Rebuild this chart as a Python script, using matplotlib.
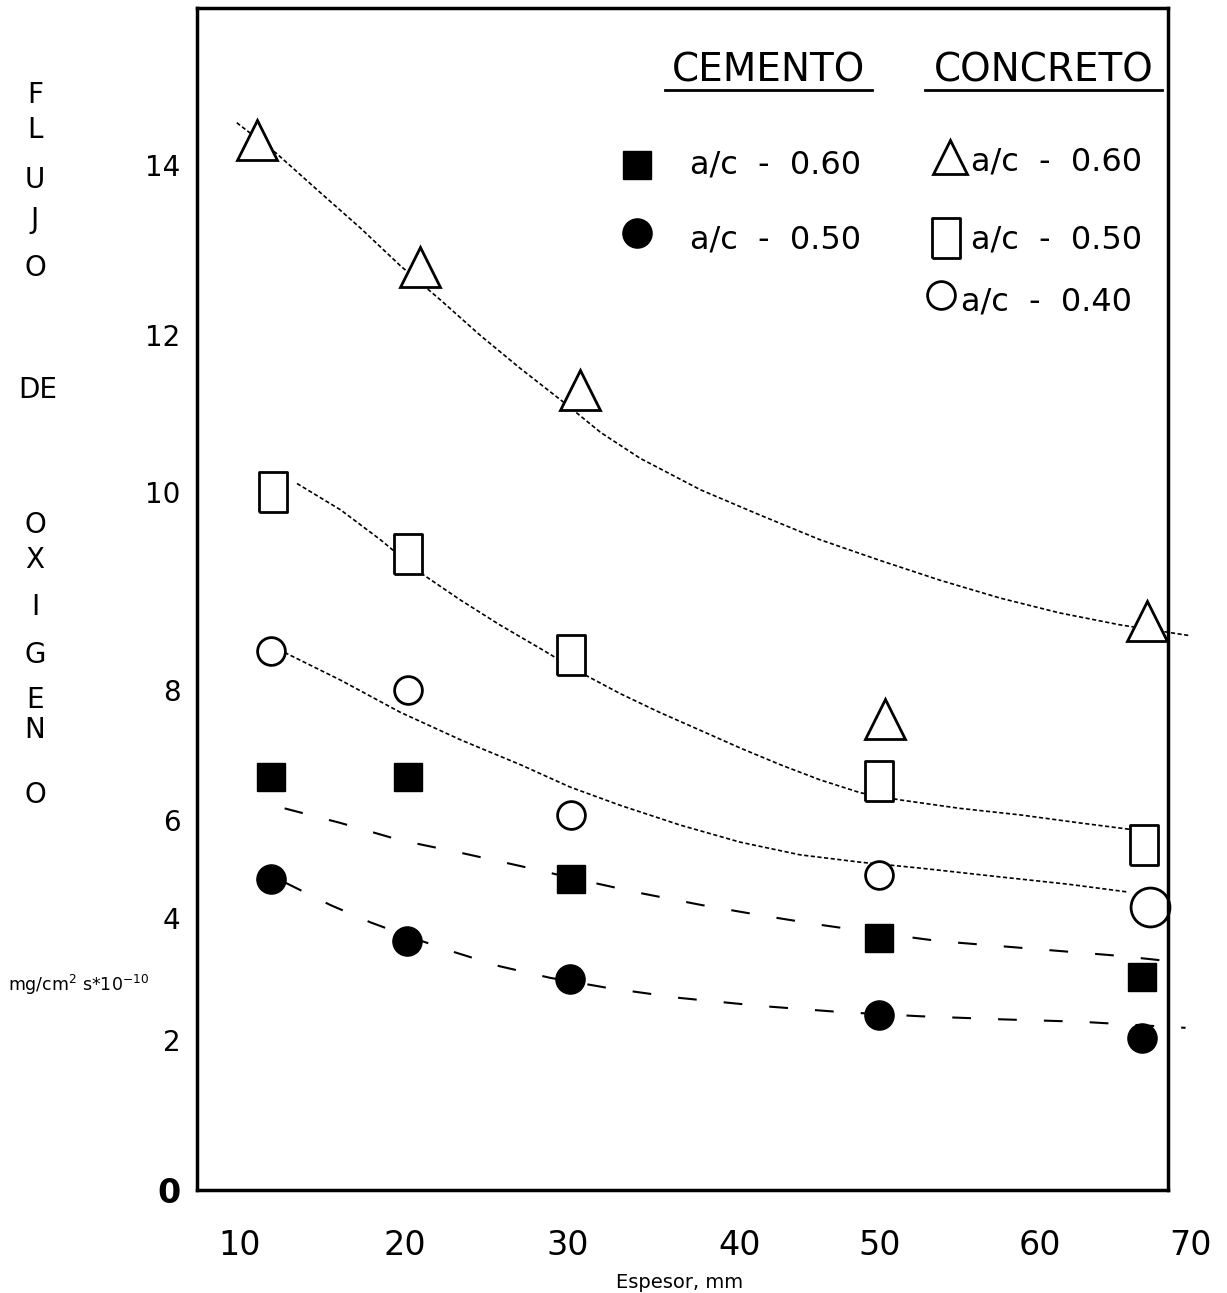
import numpy as np
import matplotlib.pyplot as plt

# espesor (mm) vs flujo de oxigeno (mg/cm2 s*10^-10)
# concreto
x_con60 = [11.0, 20.9, 30.7, 50.3, 67.1]
y_con60 = [14.3, 12.8, 11.3, 7.55, 8.7]
x_con50 = [12.0, 20.2, 30.2, 49.9, 66.9]
y_con50 = [10.0, 9.38, 8.35, 6.6, 5.5]
x_con40 = [11.9, 20.2, 30.2, 49.9, 67.3]
y_con40 = [8.4, 8.0, 6.08, 4.88, 4.22]
# cemento
x_cem60 = [11.9, 20.2, 30.2, 49.9, 66.8]
y_cem60 = [6.66, 6.66, 4.8, 3.67, 3.03]
x_cem50 = [11.9, 20.1, 30.1, 49.9, 66.8]
y_cem50 = [4.8, 3.62, 3.0, 2.41, 2.03]

# hand drawn trend curves (points picked along each curve)
cx_con60 = [9.8, 12.2, 14.85, 17.3, 19.7, 22.2, 24.6, 27.05, 29.7, 31.9, 34.2, 37.7,
            41.4, 45.7, 50.0, 53.75, 57.5, 61.3, 65.3, 70.0]
cy_con60 = [14.5, 14.14, 13.68, 13.26, 12.82, 12.41, 12.0, 11.58, 11.15, 10.76, 10.43, 10.03,
            9.77, 9.52, 9.31, 9.11, 8.93, 8.78, 8.66, 8.55]
cx_con50 = [13.45, 16.1, 18.5, 20.9, 23.4, 25.8, 28.3, 30.7, 33.0, 35.3, 37.7, 40.0,
            42.9, 45.7, 48.6, 51.25, 55.0, 58.75, 62.7, 67.3]
cy_con50 = [10.11, 9.82, 9.52, 9.19, 8.91, 8.66, 8.42, 8.18, 7.95, 7.66, 7.38, 7.11,
            6.85, 6.62, 6.42, 6.31, 6.18, 6.08, 5.94, 5.76]
cx_con40 = [12.7, 16.1, 19.7, 23.45, 27.1, 30.1, 33.0, 36.5, 40.0, 44.3, 48.6, 52.5,
            57.5, 61.9, 65.9]
cy_con40 = [8.38, 8.10, 7.66, 7.23, 6.85, 6.51, 6.23, 5.9, 5.55, 5.29, 5.14, 5.02,
            4.84, 4.69, 4.53]
cx_cem60 = [12.7, 16.1, 19.7, 23.45, 27.1, 30.7, 34.2, 37.7, 41.4, 45.7, 50.0, 53.75,
            57.5, 61.3, 65.3, 69.1]
cy_cem60 = [6.18, 5.94, 5.59, 5.33, 5.06, 4.78, 4.51, 4.27, 4.06, 3.89, 3.75, 3.62,
            3.54, 3.46, 3.38, 3.28]
cx_cem50 = [12.7, 15.45, 17.9, 20.3, 22.8, 25.8, 28.9, 32.4, 36.5, 41.4, 47.1, 52.5,
            57.5, 62.7, 69.7]
cy_cem50 = [4.73, 4.27, 3.93, 3.69, 3.46, 3.21, 3.02, 2.85, 2.69, 2.56, 2.46, 2.39,
            2.34, 2.30, 2.20]

yticks = [0, 2, 4, 6, 8, 10, 12, 14]
xticks = [10, 20, 30, 40, 50, 60, 70]

# the scanned axes are not evenly spaced, so map each label to where it sits
y_cal_v = np.array([-2, 0, 2, 4, 6, 8, 10, 12, 14, 18])
y_cal_p = -np.array([1340, 1190, 1040, 918, 820, 690, 492, 335, 165, -175])
x_cal_v = np.array([0, 10, 20, 30, 40, 50, 60, 70, 80])
x_cal_p = np.array([75, 240, 405, 568, 740, 880, 1040, 1190, 1340])

def yf(v): return np.interp(v, y_cal_v, y_cal_p)
def yi(u): return np.interp(u, y_cal_p, y_cal_v)
def xf(v): return np.interp(v, x_cal_v, x_cal_p)
def xi(u): return np.interp(u, x_cal_p, x_cal_v)

W, H = 1227, 1293
fig = plt.figure(figsize=(W/100, H/100), dpi=100)
ax = fig.add_axes([197/W, 1-1190/H, 971/W, 1182/H])
ax.set_xscale('function', functions=(xf, xi))
ax.set_yscale('function', functions=(yf, yi))
ax.set_xlim(7.39, 68.53)
ax.set_ylim(0, 15.85)

for s in ax.spines.values():
    s.set_linewidth(2.5)

rect = [(-0.34, -0.5), (0.34, -0.5), (0.34, 0.5), (-0.34, 0.5), (-0.34, -0.5)]

dot = dict(color='k', lw=1.2, ls=(0, (2.5, 1.5)), clip_on=False)
dash = dict(color='k', lw=1.5, ls=(0, (9, 13)), clip_on=False)
ax.plot(cx_con60, cy_con60, **dot)
ax.plot(cx_con50, cy_con50, **dot)
ax.plot(cx_con40, cy_con40, **dot)
ax.plot(cx_cem60, cy_cem60, **dash)
ax.plot(cx_cem50, cy_cem50, **dash)

hollow = dict(ls='none', mfc='white', mec='k', mew=2, clip_on=False)
ax.plot(x_con60, y_con60, marker='^', ms=29, **hollow)
ax.plot(x_con50, y_con50, marker=rect, ms=29, **hollow)
ax.plot(x_con40[:-1], y_con40[:-1], marker='o', ms=20, **hollow)
ax.plot(x_con40[-1:], y_con40[-1:], marker='o', ms=28, **hollow)
ax.plot(x_cem60, y_cem60, marker='s', ms=20, ls='none', color='k', clip_on=False)
ax.plot(x_cem50, y_cem50, marker='o', ms=21, ls='none', color='k', clip_on=False)

# ticks
ax.set_yticks(yticks)
ax.set_yticklabels([str(t) for t in yticks])
ax.tick_params(axis='y', length=0, pad=12, labelsize=20)
lab0 = ax.get_yticklabels()[0]
lab0.set_fontweight('bold')
lab0.set_fontsize(24)
ax.set_xticks([])
for t in xticks:
    ax.text(t, -0.047, str(t), transform=ax.get_xaxis_transform(), ha='center',
            va='center', fontsize=24, clip_on=False)
ax.text(0.497, -0.078, 'Espesor, mm', transform=ax.transAxes, ha='center',
        va='center', fontsize=14)

# vertical title
for ch, py in zip('FLUJO', [95, 130, 180, 220, 268]):
    fig.text(35/W, 1-py/H, ch, ha='center', va='center', fontsize=20)
fig.text(38/W, 1-390/H, 'DE', ha='center', va='center', fontsize=20)
for ch, py in zip('OXIGENO', [525, 560, 607, 655, 700, 730, 795]):
    fig.text(35/W, 1-py/H, ch, ha='center', va='center', fontsize=20)
fig.text(8/W, 1-985/H, r'mg/cm$^{2}$ s*10$^{-10}$', ha='left', va='center', fontsize=12.5)

# legend block
tr = ax.transAxes
ax.text(0.5885, 0.9475, 'CEMENTO', transform=tr, ha='center', va='center', fontsize=28)
ax.plot([0.482, 0.695], [0.931, 0.931], transform=tr, color='k', lw=2)
ax.text(0.872, 0.9475, 'CONCRETO', transform=tr, ha='center', va='center', fontsize=28)
ax.plot([0.750, 0.994], [0.931, 0.931], transform=tr, color='k', lw=2)

ax.plot([0.453], [0.867], transform=tr, marker='s', ms=20, color='k')
ax.text(0.508, 0.867, 'a/c  -  0.60', transform=tr, va='center', fontsize=23)
ax.plot([0.453], [0.810], transform=tr, marker='o', ms=21, color='k')
ax.text(0.508, 0.804, 'a/c  -  0.50', transform=tr, va='center', fontsize=23)
ax.plot([0.776], [0.874], transform=tr, marker='^', ms=25, **hollow)
ax.text(0.797, 0.870, 'a/c  -  0.60', transform=tr, va='center', fontsize=23)
ax.plot([0.771], [0.805], transform=tr, marker=rect, ms=29, **hollow)
ax.text(0.797, 0.804, 'a/c  -  0.50', transform=tr, va='center', fontsize=23)
ax.plot([0.766], [0.757], transform=tr, marker='o', ms=20, **hollow)
ax.text(0.787, 0.751, 'a/c  -  0.40', transform=tr, va='center', fontsize=23)

fig.savefig('out.png', dpi=100)
